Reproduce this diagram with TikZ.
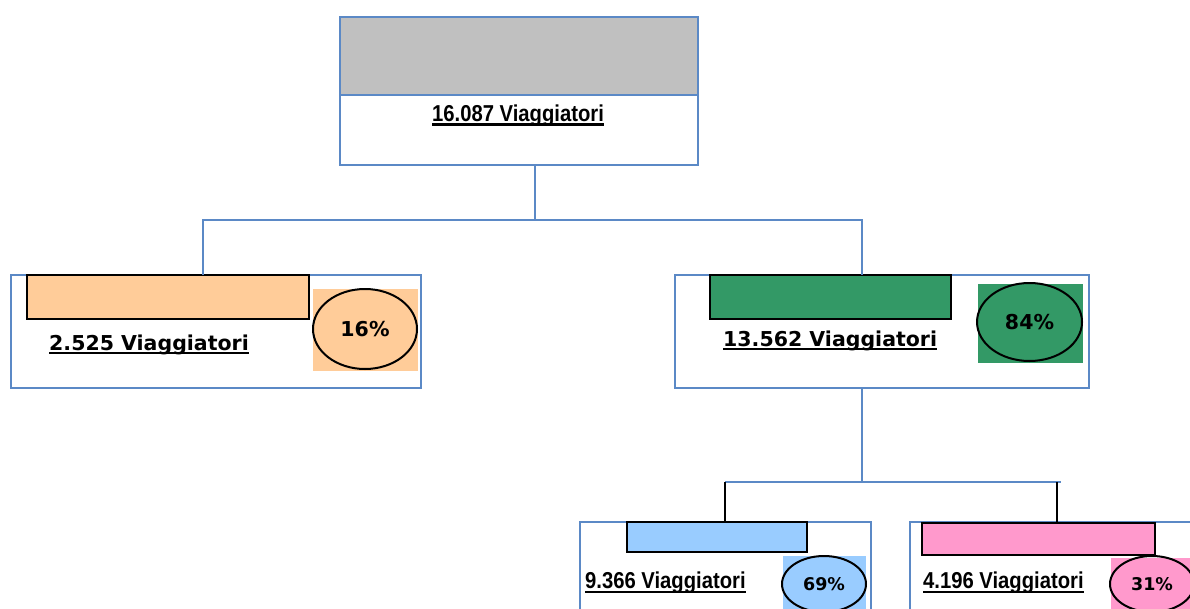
\documentclass[tikz,border=0pt]{standalone}
\usepackage{fontspec}
\newfontfamily\verdfont{DejaVu Sans}
\newfontfamily\narrowfont[FakeStretch=0.88]{Liberation Sans}
\usetikzlibrary{shapes,positioning}
\definecolor{frame}{HTML}{5B89C6}
\definecolor{grigio}{HTML}{C0C0C0}
\definecolor{arancio}{HTML}{FFCC99}
\definecolor{verde}{HTML}{339966}
\definecolor{azzurro}{HTML}{99CCFF}
\definecolor{rosa}{HTML}{FF99CC}
\begin{document}
\begin{tikzpicture}[
		x=1pt,y=-1pt,
		panel/.style={
		  draw=frame,
		  line width=2.5pt,
		  fill=white,
		  rectangle,
		  anchor=north west,
		  inner sep=0pt,
		  outer sep=0pt
		  },
		bar/.style={
		  draw=black,
		  line width=2.5pt,
		  rectangle,
		  anchor=north west,
		  inner sep=0pt,
		  outer sep=0pt
		  },
		patch/.style={
		  draw=none,
		  rectangle,
		  anchor=north west,
		  inner sep=0pt,
		  outer sep=0pt
		  },
		pct/.style={
		  draw=black,
		  line width=2pt,
		  ellipse,
		  inner sep=0pt,
		  font=\verdfont\bfseries\fontsize{20.5}{24}\selectfont
		  },
		pctsmall/.style={
		  pct,
		  font=\verdfont\bfseries\fontsize{17.5}{20}\selectfont
		  },
		wide/.style={
		  anchor=base west,
		  inner sep=0pt,
		  font=\verdfont\bfseries\fontsize{20.5}{24}\selectfont
		  },
		narrow/.style={
		  anchor=base west,
		  inner sep=0pt,
		  font=\narrowfont\bfseries\fontsize{23}{27}\selectfont
		  },
		link/.style={draw=frame,line width=2.5pt},
		stem/.style={draw=black,line width=2.5pt},
		uline/.style={draw=black,line width=2.5pt}
		]
		\clip (0,0) rectangle (1190,608);
		% top
		\node[panel,minimum width=358pt,minimum height=148pt] (top) at (340,17) {};
		\node[panel,fill=grigio,minimum width=358pt,minimum height=78pt] (topgray) at (340,17) {};
		\node[narrow] (ltop) at (432,121) {16.087 Viaggiatori};
		% second level
		\node[panel,minimum width=410pt,minimum height=113pt] (left) at (11,275) {};
		\node[panel,minimum width=414pt,minimum height=113pt] (right) at (675,275) {};
		\node[bar,fill=arancio,minimum width=282pt,minimum height=44pt] (lbar) at (27,275) {};
		\node[bar,fill=verde,minimum width=241pt,minimum height=44pt] (rbar) at (710,275) {};
		\node[patch,fill=arancio,minimum width=105pt,minimum height=82pt] (lsq) at (313,289) {};
		\node[patch,fill=verde,minimum width=105pt,minimum height=79pt] (rsq) at (978,284) {};
		\node[pct,minimum width=104pt,minimum height=80pt] (lpct) at (365,329) {16\%};
		\node[pct,minimum width=105pt,minimum height=78pt] (rpct) at (1029.5,322) {84\%};
		\node[wide] (lleft) at (49,350) {2.525 Viaggiatori};
		\node[wide] (lright) at (723,346) {13.562 Viaggiatori};
		% third level
		\node[panel,minimum width=291pt,minimum height=120pt] (bleft) at (580,522) {};
		\node[panel,minimum width=320pt,minimum height=120pt] (bright) at (910,522) {};
		\node[bar,fill=azzurro,minimum width=180pt,minimum height=30pt] (bbar1) at (627,522) {};
		\node[bar,fill=rosa,minimum width=233pt,minimum height=32pt] (bbar2) at (922,523) {};
		\node[patch,fill=azzurro,minimum width=83pt,minimum height=60pt] (bsq1) at (783,556) {};
		\node[patch,fill=rosa,minimum width=90pt,minimum height=60pt] (bsq2) at (1111,558) {};
		\node[pctsmall,minimum width=84pt,minimum height=56pt] (bpct1) at (824,584) {69\%};
		\node[pctsmall,minimum width=84pt,minimum height=56pt] (bpct2) at (1152,584) {31\%};
		\node[narrow] (lbleft) at (585,588) {9.366 Viaggiatori};
		\node[narrow] (lbright) at (923,588) {4.196 Viaggiatori};
		\foreach \lab/\off in {ltop/3.5,lleft/3,lright/3,lbleft/4,lbright/4}
		  \draw[uline] ([yshift=-\off pt]\lab.base west) -- ([yshift=-\off pt]\lab.base east);
		% connectors
		\coordinate (j1) at (535,220);
		\coordinate (jl) at (203,220);
		\coordinate (jr) at (862,220);
		\draw[link] (top.south -| j1) -- (j1);
		\draw[link] (left.north -| jl) -- (jl) -- (jr) -- (right.north -| jr);
		\coordinate (j2) at (862,482);
		\coordinate (jbl) at (725,482);
		\coordinate (jbr) at (1061,482);
		\draw[link] (right.south -| j2) -- (j2);
		\draw[link] (jbl) -- (jbr);
		\draw[stem] (jbl) -- (bbar1.north -| jbl);
		\draw[stem] ([xshift=-4pt]jbr) -- (bbar2.north -| 1057,0);
\end{tikzpicture}
\end{document}
